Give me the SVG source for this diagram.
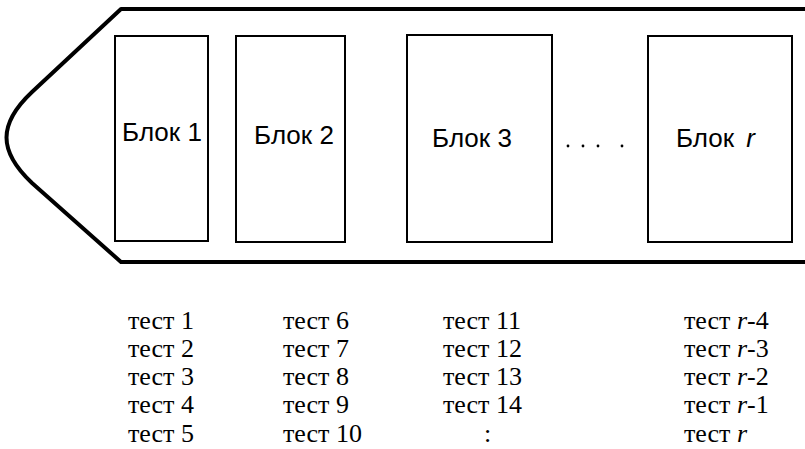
<svg xmlns="http://www.w3.org/2000/svg" width="805" height="449" viewBox="0 0 805 449">
  <style>
    .hull { fill: none; stroke: #000; stroke-width: 4; stroke-linejoin: round; }
    .block { fill: #fff; stroke: #000; stroke-width: 2; }
    .lbl { font-family: "Liberation Sans", Arial, sans-serif; font-size: 26px; fill: #000; }
    .tst { font-family: "Liberation Serif", "Times New Roman", "DejaVu Serif", serif; font-size: 26px; fill: #000; }
    .it { font-style: italic; }
  </style>
  <rect width="805" height="449" fill="#fff"/>

  <!-- outer pointed hull, open on the right -->
  <g id="hull">
    <path class="hull" d="M 805 9 L 121 9 L 32 92 C -2 124, -2 151, 32 183 L 121 262 L 805 262"/>
  </g>

  <g id="block1">
    <rect class="block" x="115" y="36" width="93" height="205"/>
    <text class="lbl" x="162" y="141" text-anchor="middle">Блок 1</text>
  </g>
  <g id="block2">
    <rect class="block" x="236" y="36" width="109" height="206"/>
    <text class="lbl" x="294" y="144" text-anchor="middle">Блок 2</text>
  </g>
  <g id="block3">
    <rect class="block" x="407" y="35" width="145" height="207"/>
    <text class="lbl" x="472" y="147" text-anchor="middle">Блок 3</text>
  </g>
  <g id="ellipsis">
    <circle cx="568" cy="146" r="1.4"/>
    <circle cx="583" cy="146" r="1.4"/>
    <circle cx="598" cy="146" r="1.4"/>
    <circle cx="622" cy="146" r="1.4"/>
  </g>
  <g id="blockr">
    <rect class="block" x="648" y="36" width="144" height="206"/>
    <text class="lbl" x="676" y="147">Блок <tspan class="it" dx="5">r</tspan></text>
  </g>

  <!-- test lists under each block -->
  <g id="tests1" class="tst">
    <text x="128" y="329">тест 1</text>
    <text x="128" y="357">тест 2</text>
    <text x="128" y="385">тест 3</text>
    <text x="128" y="413">тест 4</text>
    <text x="128" y="442">тест 5</text>
  </g>
  <g id="tests2" class="tst">
    <text x="283" y="329">тест 6</text>
    <text x="283" y="357">тест 7</text>
    <text x="283" y="385">тест 8</text>
    <text x="283" y="413">тест 9</text>
    <text x="283" y="442">тест 10</text>
  </g>
  <g id="tests3" class="tst">
    <text x="443" y="329">тест 11</text>
    <text x="443" y="357">тест 12</text>
    <text x="443" y="385">тест 13</text>
    <text x="443" y="413">тест 14</text>
    <text x="484" y="442">:</text>
  </g>
  <g id="testsr" class="tst">
    <text x="684" y="329">тест <tspan class="it">r</tspan>-4</text>
    <text x="684" y="357">тест <tspan class="it">r</tspan>-3</text>
    <text x="684" y="385">тест <tspan class="it">r</tspan>-2</text>
    <text x="684" y="413">тест <tspan class="it">r</tspan>-1</text>
    <text x="684" y="442">тест <tspan class="it">r</tspan></text>
  </g>
</svg>
